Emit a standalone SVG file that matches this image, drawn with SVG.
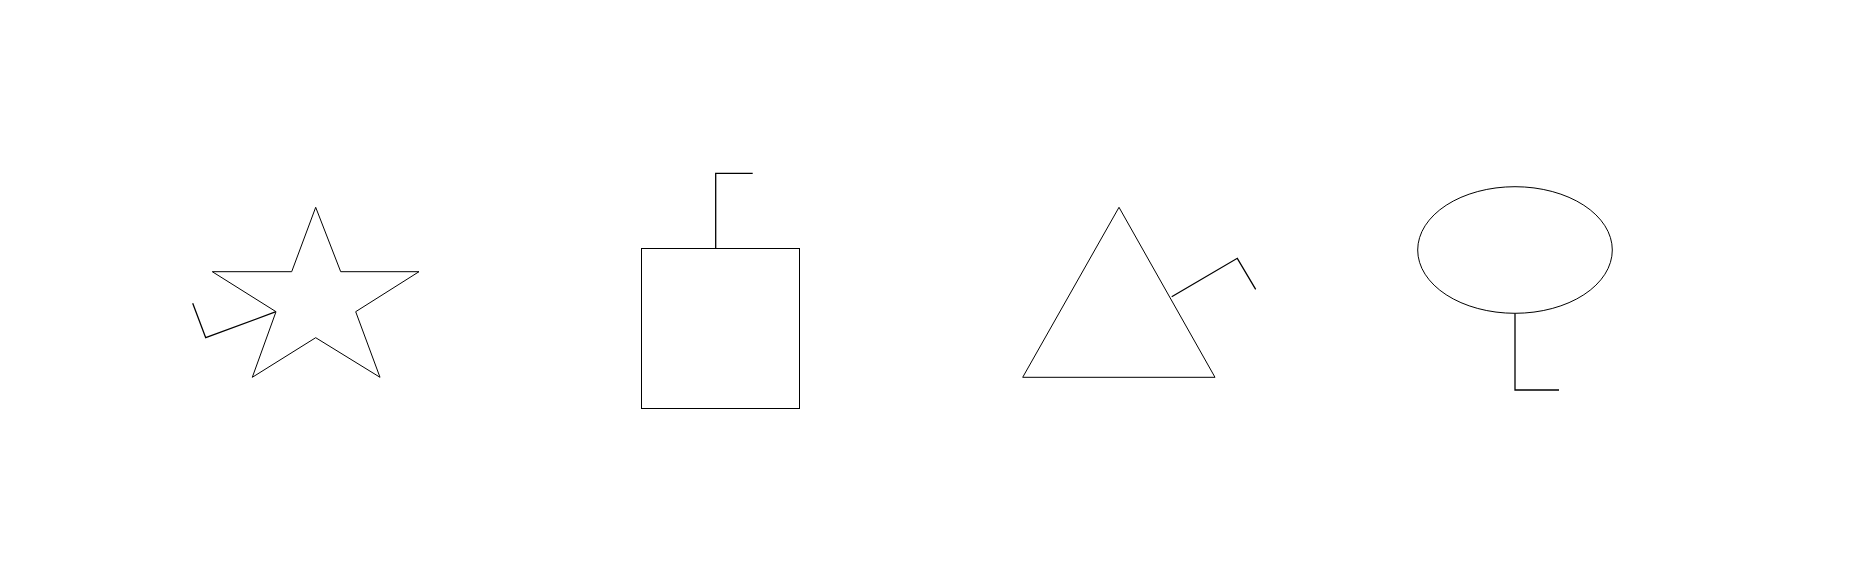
<svg xmlns="http://www.w3.org/2000/svg" width="1861" height="580" viewBox="0 0 1861 580">
<style>
.shape{fill:#fff;stroke:#000;stroke-width:1}
.conn{fill:none;stroke:#000;stroke-width:1.3}
</style>
<rect width="1861" height="580" fill="#fff"/>
<g id="connectors">
<polyline class="conn" points="276,311.7 205.7,337.7 192.7,303.3"/>
<polyline class="conn" points="715.7,248.3 715.7,173.3 752.7,173.3"/>
<polyline class="conn" points="1171.7,296.7 1237.3,258.3 1255.7,289.3"/>
<polyline class="conn" points="1515,313.3 1515,390 1559,390"/>
</g>
<g id="star">
<polygon class="shape" points="315.7,207.3 340.7,271.7 419,271.7 355.7,311.7 380,377.3 315.7,337.7 252.3,377.3 276,311.7 212.3,271.7 291.7,271.7"/>
</g>
<g id="square">
<rect class="shape" x="641.5" y="248.5" width="158" height="160"/>
</g>
<g id="triangle">
<polygon class="shape" points="1119,207.3 1215,377.3 1022.7,377.3"/>
</g>
<g id="ellipse">
<ellipse class="shape" cx="1515" cy="250" rx="97.3" ry="63.3"/>
</g>
</svg>
